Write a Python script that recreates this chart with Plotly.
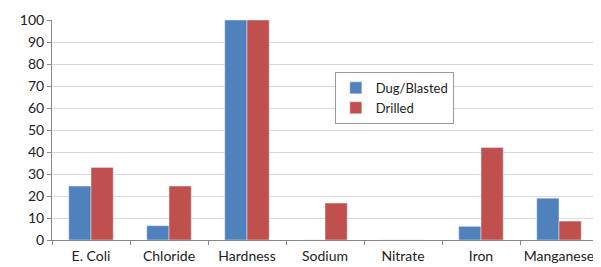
import plotly.graph_objects as go

categories = ["E. Coli", "Chloride", "Hardness", "Sodium", "Nitrate", "Iron", "Manganese"]
dug_blasted = [24.5, 6.5, 100, 0, 0, 6.2, 19]
drilled = [33, 24.5, 100, 16.8, 0, 42, 8.6]
y_ticks = [0, 10, 20, 30, 40, 50, 60, 70, 80, 90, 100]

fig = go.Figure()
fig.add_trace(go.Bar(name="Dug/Blasted", x=categories, y=dug_blasted, marker_color="#4F81BD"))
fig.add_trace(go.Bar(name="Drilled", x=categories, y=drilled, marker_color="#C0504D"))

fig.update_layout(
    width=593, height=259,
    margin=dict(l=44, r=3, t=12, b=27),
    barmode="group", bargap=0.43, bargroupgap=0,
    plot_bgcolor="white", paper_bgcolor="white",
    font=dict(family="Lato, Liberation Sans, sans-serif", size=14, color="#222"),
    legend=dict(x=0.518, y=0.764, xanchor="left", yanchor="top",
                bordercolor="#999", borderwidth=1, bgcolor="white",
                font=dict(size=13), tracegroupgap=0, itemwidth=30),
    showlegend=True,
)
fig.update_xaxes(showline=True, linecolor="#888", linewidth=1, ticks="outside",
                 tickson="boundaries", ticklen=4, tickcolor="#888", showgrid=False,
                 tickangle=0, automargin=False, tickfont=dict(size=14),
                 ticklabelstandoff=3)
fig.update_yaxes(range=[0, 100], tickvals=y_ticks, showline=True, linecolor="#888",
                 linewidth=1, showgrid=True, gridcolor="#d9d9d9", zeroline=False,
                 ticks="outside", ticklen=4, tickcolor="#888", automargin=False,
                 tickfont=dict(size=14))

fig.write_html("out.html")
